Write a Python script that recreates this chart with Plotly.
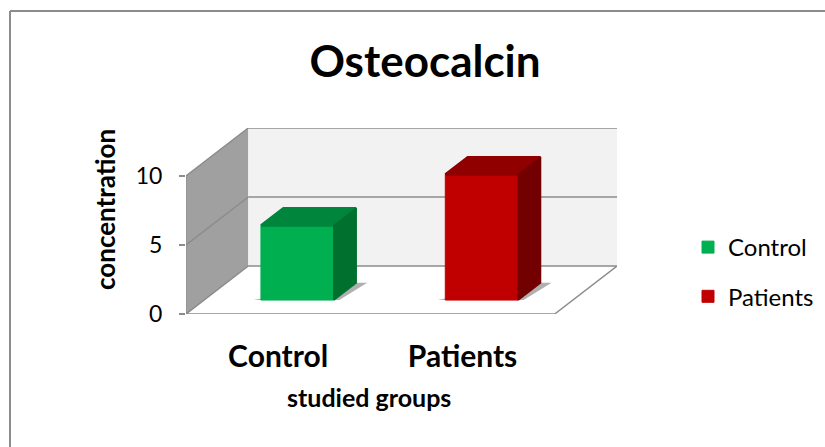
import plotly.graph_objects as go

# values
groups = ["Control", "Patients"]
values = [5.4, 9.1]
front_colors = ["#00b050", "#c00000"]
top_colors = ["#00853c", "#900000"]
side_colors = ["#00702f", "#720000"]
y_ticks = [0, 5, 10]

# depth of the fake 3d box, in axis units
DX = 0.338
DY = 3.48
# bar sits between these depth fractions
Z1 = 0.29
Z2 = 0.65
BAR_W = 0.395
BAR_SHIFT = 0.006
Y_MAX = 10 + DY
X_LEFT = -0.5
X_RIGHT = 1.5


def pt(x, y, z=0):
    return x + z * DX, y + z * DY


def path(points):
    return "M " + " L ".join("%f,%f" % p for p in points) + " Z"


line_col = "#8c8c8c"
shapes = []
# left wall
shapes.append(dict(type="path", layer="below", fillcolor="#a0a0a0", line=dict(width=0),
                   path=path([pt(X_LEFT, 0), pt(X_LEFT, 10), pt(X_LEFT, 10, 1), pt(X_LEFT, 0, 1)])))
# back wall
shapes.append(dict(type="path", layer="below", fillcolor="#f2f2f2", line=dict(width=0),
                   path=path([pt(X_LEFT, 0, 1), pt(X_LEFT, 10, 1), pt(X_RIGHT, 10, 1), pt(X_RIGHT, 0, 1)])))
# floor
shapes.append(dict(type="path", layer="below", fillcolor="#ffffff", line=dict(color=line_col, width=1.5),
                   path=path([pt(X_LEFT, 0), pt(X_RIGHT, 0), pt(X_RIGHT, 0, 1), pt(X_LEFT, 0, 1)])))
# grid lines on both walls
for v in y_ticks[1:]:
    x0, y0 = pt(X_LEFT, v)
    x1, y1 = pt(X_LEFT, v, 1)
    x2, y2 = pt(X_RIGHT, v, 1)
    shapes.append(dict(type="line", layer="below", x0=x0, y0=y0, x1=x1, y1=y1, line=dict(color=line_col, width=1.5)))
    shapes.append(dict(type="line", layer="below", x0=x1, y0=y1, x1=x2, y1=y2, line=dict(color=line_col, width=1.5)))
# front edge of the wall
x0, y0 = pt(X_LEFT, 0)
x1, y1 = pt(X_LEFT, 10)
shapes.append(dict(type="line", layer="below", x0=x0, y0=y0, x1=x1, y1=y1, line=dict(color=line_col, width=1)))

# soft shadows on the floor
for i in range(len(groups)):
    l = i + BAR_SHIFT - BAR_W / 2
    r = i + BAR_SHIFT + BAR_W / 2
    shapes.append(dict(type="path", layer="below", fillcolor="#b0b0b0", line=dict(width=0),
                       path=path([pt(l - 0.04, 0, Z1), pt(r + 0.03, 0, Z1), pt(r + 0.06, 0, Z2), pt(r, 0, Z2),
                                  pt(r, 0, Z1 + 0.05), pt(l, 0, Z1 + 0.05)])))

# chart border, only top and left edges are in the picture
shapes.append(dict(type="line", xref="paper", yref="paper", layer="below",
                   x0=(10 - 186) / 431, x1=(825 - 186) / 431, y0=(314 - 11) / 186, y1=(314 - 11) / 186,
                   line=dict(color="#8c8c8c", width=2)))
shapes.append(dict(type="line", xref="paper", yref="paper", layer="below",
                   x0=(10 - 186) / 431, x1=(10 - 186) / 431, y0=(314 - 11) / 186, y1=(314 - 447) / 186,
                   line=dict(color="#8c8c8c", width=2)))

fig = go.Figure()
for i, g in enumerate(groups):
    l = i + BAR_SHIFT - BAR_W / 2
    r = i + BAR_SHIFT + BAR_W / 2
    v = values[i]
    bx, by = pt(i + BAR_SHIFT, 0, Z1)
    fig.add_trace(go.Bar(x=[bx], y=[v], base=[by], width=[BAR_W], name=g, legendgroup=g,
                         marker=dict(color=front_colors[i], line=dict(color=front_colors[i], width=1)),
                         hoverinfo="name+y"))
    top = [pt(l, v, Z1), pt(r, v, Z1), pt(r, v, Z2), pt(l, v, Z2), pt(l, v, Z1)]
    side = [pt(r, 0, Z1), pt(r, v, Z1), pt(r, v, Z2), pt(r, 0, Z2), pt(r, 0, Z1)]
    fig.add_trace(go.Scatter(x=[p[0] for p in top], y=[p[1] for p in top], mode="lines", fill="toself",
                             fillcolor=top_colors[i], line=dict(color=top_colors[i], width=2.5),
                             showlegend=False, hoverinfo="skip"))
    fig.add_trace(go.Scatter(x=[p[0] for p in side], y=[p[1] for p in side], mode="lines", fill="toself",
                             fillcolor=side_colors[i], line=dict(color=side_colors[i], width=1.5),
                             showlegend=False, hoverinfo="skip"))

FONT = "Lato"
fig.update_layout(
    width=825, height=447,
    margin=dict(l=186, r=208, t=128, b=133, autoexpand=False),
    paper_bgcolor="white", plot_bgcolor="rgba(0,0,0,0)",
    font=dict(family=FONT, color="black"),
    barmode="overlay",
    title=dict(text="<b>Osteocalcin</b>", x=425 / 825, xanchor="center", y=1 - 62 / 447, yanchor="middle",
               font=dict(size=44, family=FONT, color="black")),
    xaxis=dict(range=[X_LEFT, X_RIGHT + DX], tickmode="array", tickvals=[0, 1],
               ticktext=["<b>%s</b>" % g for g in groups], tickfont=dict(size=30, family=FONT),
               showgrid=False, zeroline=False, showline=False, ticks="", ticklabelstandoff=22),
    yaxis=dict(range=[0, Y_MAX], tickmode="array", tickvals=y_ticks,
               tickfont=dict(size=23, family=FONT), showgrid=False, zeroline=False, showline=False,
               ticks="outside", ticklen=6, tickcolor=line_col, tickwidth=1.5, ticklabelstandoff=12),
    legend=dict(x=(688 - 186) / 431, y=(314 - 225) / 186, xanchor="left", yanchor="top",
                font=dict(size=24, family=FONT), itemwidth=30, tracegroupgap=15, bgcolor="rgba(0,0,0,0)"),
    annotations=[
        dict(text="<b>studied groups</b>", xref="paper", yref="paper", x=(369 - 186) / 431, y=(314 - 397) / 186,
             showarrow=False, xanchor="center", yanchor="middle", font=dict(size=25, family=FONT)),
        dict(text="<b>concentration</b>", xref="paper", yref="paper", x=(105 - 186) / 431, y=(314 - 210) / 186,
             showarrow=False, textangle=-90, xanchor="center", yanchor="middle", font=dict(size=26, family=FONT)),
    ],
    shapes=shapes,
)

fig.write_html("out.html", config=dict(displayModeBar=False), post_script="document.body.style.margin='0';")
